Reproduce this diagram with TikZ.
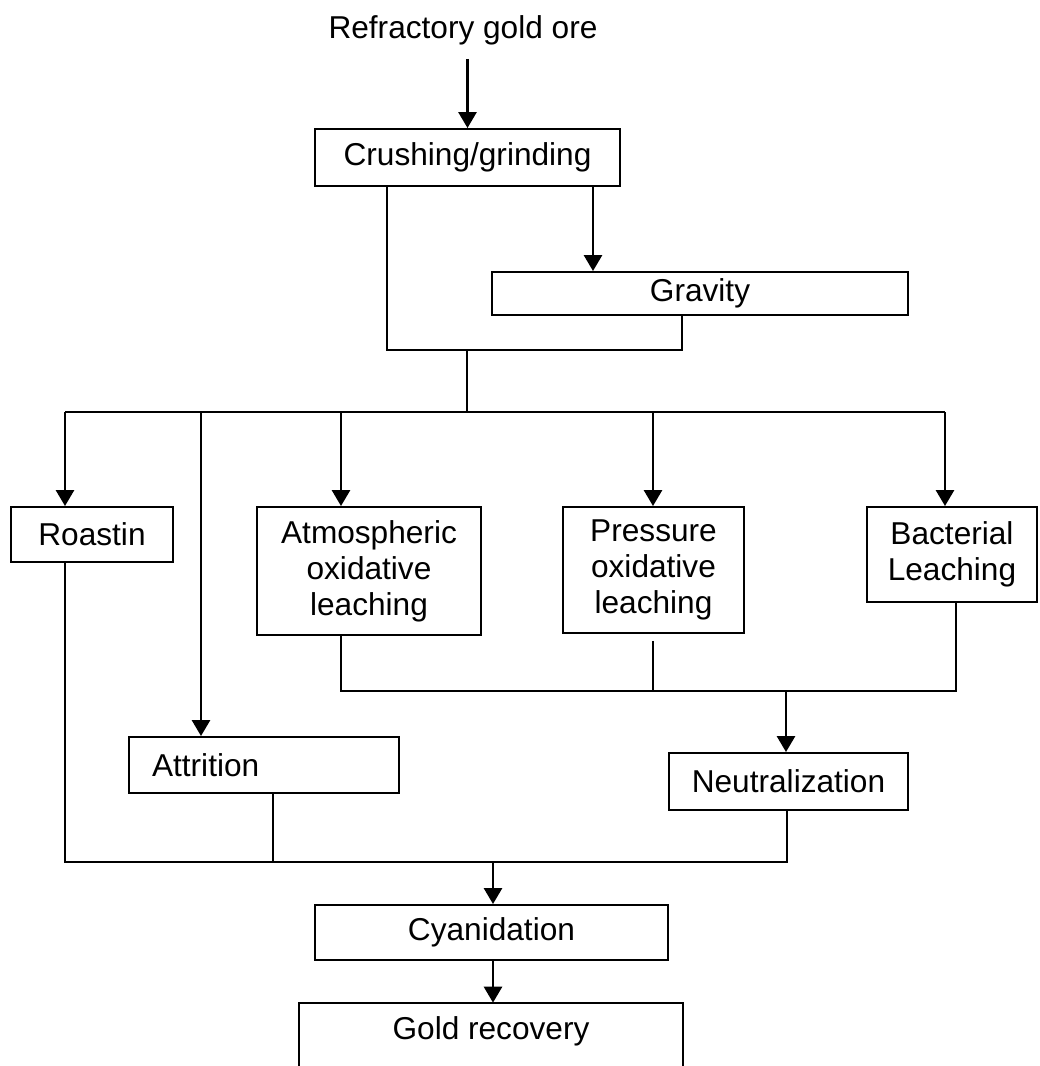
\documentclass[tikz,border=0pt]{standalone}
\usepackage{fontspec}
\setmainfont{Liberation Sans}
\usetikzlibrary{arrows.meta}

\tikzset{
	procbox/.style={draw, line width=1.1pt, inner sep=0pt, align=center},
	link/.style={line width=1pt},
	flow/.style={line width=1.6pt, -{Triangle[length=0.32cm, width=0.36cm]}},
}

\begin{document}
\begin{tikzpicture}[x=0.02cm, y=-0.02cm, font=\fontsize{18}{20.5}\selectfont]
	\useasboundingbox (0,0) rectangle (1039,1066);

	\node (ore)   at (463,30)      {Refractory gold ore};
	\node (crush) at (467.5,157.5) [procbox, minimum width=6.1cm, minimum height=1.14cm] {Crushing/grinding};
	\node (grav)  at (700,293.5)   [procbox, minimum width=8.32cm, minimum height=0.86cm] {Gravity};
	\node (roast) at (92,534.5)    [procbox, minimum width=3.24cm, minimum height=1.1cm] {Roastin};
	\node (atm)   at (369,571)     [procbox, minimum width=4.48cm, minimum height=2.56cm] {Atmospheric\\oxidative\\leaching};
	\node (press) at (653.5,570)   [procbox, minimum width=3.62cm, minimum height=2.52cm] {Pressure\\oxidative\\leaching};
	\node (bact)  at (952,554.5)   [procbox, minimum width=3.4cm, minimum height=1.9cm] {Bacterial\\Leaching};
	\node (attr)  at (264,765)     [procbox, align=left, text width=4.48cm, inner xsep=0.46cm, minimum height=1.12cm] {Attrition};
	\node (neut)  at (788.5,781.5) [procbox, minimum width=4.78cm, minimum height=1.14cm] {Neutralization};
	\node (cyan)  at (491.5,932.5) [procbox, minimum width=7.06cm, minimum height=1.1cm] {Cyanidation};
	\node (gold)  at (491,1031)    [inner sep=0pt, minimum width=7.66cm, minimum height=1.12cm] {Gold recovery};

	% junction points of the flow lines
	\coordinate (merge)   at (467,350);
	\coordinate (split)   at (467,412);
	\coordinate (join)    at (786,691);
	\coordinate (collect) at (493,862);

	% feed and grinding
	\draw[flow] ([yshift=-0.16cm]ore.south -| crush.north) -- (crush.north);
	\draw[flow] (crush.south -| 593,0) -- (grav.north -| 593,0);
	\draw[link] (crush.south -| 387,0) |- (merge) -| (grav.south -| 682,0);
	\draw[link] (merge) -- (split);

	% pre-treatment routes
	\draw[link] (split -| 65,0) -- (split -| 945,0);
	\draw[flow] (split -| 65,0) -- (roast.north -| 65,0);
	\draw[flow] (split -| 201,0) -- (attr.north -| 201,0);
	\draw[flow] (split -| 341,0) -- (atm.north -| 341,0);
	\draw[flow] (split -| 653,0) -- (press.north -| 653,0);
	\draw[flow] (split -| 945,0) -- (bact.north -| 945,0);

	% oxidative routes to neutralization
	\draw[link] (atm.south -| 341,0) |- (join);
	\draw[link] (bact.south -| 956,0) |- (join);
	\draw[link, shorten <=0.14cm] (press.south -| 653,0) -- (join -| 653,0);
	\draw[flow] (join) -- (neut.north -| join);

	% everything to cyanidation
	\draw[link] (roast.south -| 65,0) |- (collect);
	\draw[link] (neut.south -| 787,0) |- (collect);
	\draw[link] (attr.south -| 273,0) -- (collect -| 273,0);
	\draw[flow] (collect) -- (cyan.north -| collect);
	\draw[flow] (cyan.south -| collect) -- (gold.north -| collect);

	% open box at the page foot
	\draw[line width=1.1pt] (gold.north west |- 0,1066) -- (gold.north west) -- (gold.north east) -- (gold.north east |- 0,1066);
\end{tikzpicture}
\end{document}
